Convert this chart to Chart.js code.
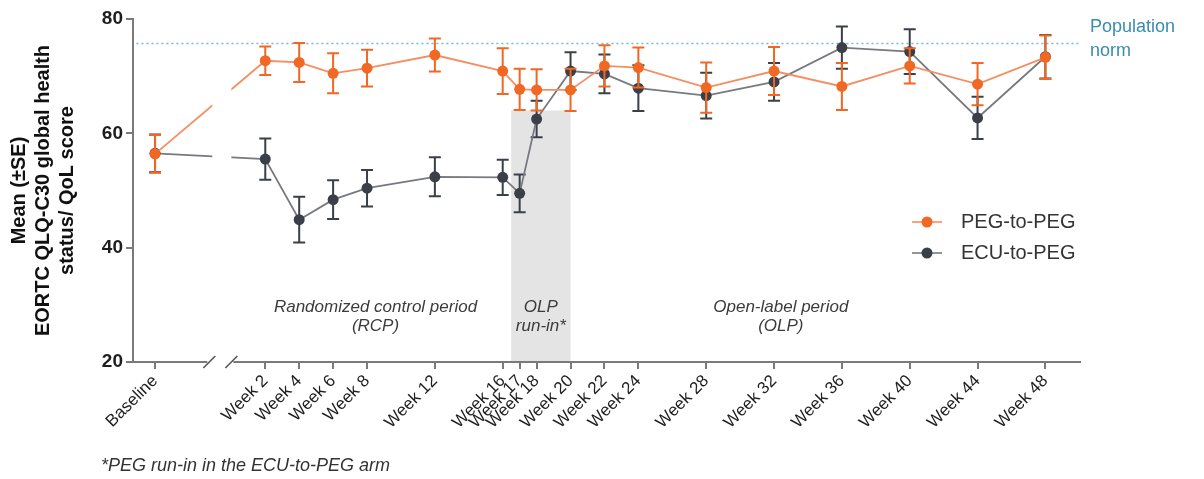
<!DOCTYPE html>
<html>
<head>
<meta charset="utf-8">
<script src="https://cdn.jsdelivr.net/npm/chart.js@4.4.1/dist/chart.umd.min.js"></script>
<style>
  html, body { margin: 0; padding: 0; background: #fff; }
  #wrap { position: relative; width: 1204px; height: 479px; }
</style>
</head>
<body>
<div id="wrap"><canvas id="qolChart" width="1204" height="479"></canvas></div>
<script>
// x positions: baseline sits left of the axis break, the rest are study weeks
const BASELINE_POS = -4.5;
const categories = ['Baseline', 'Week 2', 'Week 4', 'Week 6', 'Week 8', 'Week 12', 'Week 16', 'Week 17', 'Week 18',
  'Week 20', 'Week 22', 'Week 24', 'Week 28', 'Week 32', 'Week 36', 'Week 40', 'Week 44', 'Week 48'];
const weekValues = [BASELINE_POS, 2, 4, 6, 8, 12, 16, 17, 18, 20, 22, 24, 28, 32, 36, 40, 44, 48];

// mean and SE per visit
const pegMean = [56.4, 72.7, 72.4, 70.5, 71.4, 73.7, 70.9, 67.7, 67.6, 67.6, 71.8, 71.5, 68.0, 70.9, 68.2, 71.8, 68.6, 73.3];
const pegSE   = [3.3, 2.5, 3.4, 3.5, 3.2, 2.9, 4.0, 3.6, 3.6, 3.7, 3.6, 3.5, 4.4, 4.2, 4.1, 3.1, 3.7, 3.8];
const ecuMean = [56.5, 55.5, 44.9, 48.4, 50.4, 52.4, 52.3, 49.5, 62.5, 70.9, 70.4, 67.9, 66.6, 69.0, 75.0, 74.3, 62.7, 73.4];
const ecuSE   = [3.3, 3.6, 4.0, 3.4, 3.2, 3.4, 3.1, 3.3, 3.2, 3.3, 3.4, 4.0, 4.0, 3.3, 3.7, 3.9, 3.7, 3.8];

const populationNorm = 75.7;
const yTicks = [20, 40, 60, 80];
const runInWeeks = [16.5, 20];   // shaded OLP run-in window
const runInTop = 64;
const axisBreak = [-1.3, 0];     // the // on the x axis

const X_MIN = -5.8;
const X_MAX = 50.1;

const ORANGE = 'rgb(241,103,36)';
const ORANGE_LINE = 'rgb(245,142,98)';
const DARK = 'rgb(58,63,72)';
const GRAY_LINE = 'rgb(118,122,128)';
const AXIS = '#7a7a7a';
const FONT = "'Liberation Sans', Arial, sans-serif";

const errorBars = { 0: [pegMean, pegSE, ORANGE], 1: [ecuMean, ecuSE, DARK] };

const qolPlugin = {
  id: 'qolDecor',
  beforeDatasetsDraw(chart) {
    const { ctx, chartArea, scales: { x, y } } = chart;
    ctx.save();
    ctx.fillStyle = '#e4e4e4';
    const x0 = x.getPixelForValue(runInWeeks[0]);
    const x1 = x.getPixelForValue(runInWeeks[1]);
    const top = y.getPixelForValue(runInTop);
    ctx.fillRect(x0, top, x1 - x0, chartArea.bottom - top - 1);
    ctx.restore();
  },
  beforeDatasetDraw(chart, args) {
    const eb = errorBars[args.index];
    if (!eb) return;
    const { ctx, chartArea, scales: { x, y } } = chart;
    const [means, ses, color] = eb;
    ctx.save();
    ctx.strokeStyle = color;
    ctx.lineWidth = 2;
    means.forEach((m, i) => {
      const px = x.getPixelForValue(weekValues[i]);
      const yt = y.getPixelForValue(m + ses[i]);
      const yb = y.getPixelForValue(m - ses[i]);
      ctx.beginPath();
      ctx.moveTo(px, yt); ctx.lineTo(px, yb);
      ctx.moveTo(px - 6, yt); ctx.lineTo(px + 6, yt);
      ctx.moveTo(px - 6, yb); ctx.lineTo(px + 6, yb);
      ctx.stroke();
    });
    ctx.restore();
    // cut the connecting line where the axis is broken
    const g0 = x.getPixelForValue(axisBreak[0]) + 3;
    const g1 = x.getPixelForValue(axisBreak[1]);
    ctx.save();
    ctx.beginPath();
    ctx.rect(0, 0, chart.width, chart.height);
    ctx.rect(g0, chartArea.top, g1 - g0, chartArea.bottom - chartArea.top);
    ctx.clip('evenodd');
  },
  afterDatasetDraw(chart, args) {
    if (errorBars[args.index]) chart.ctx.restore();
  },
  afterDraw(chart) {
    const { ctx, chartArea, scales: { x, y } } = chart;
    const base = chartArea.bottom;
    const b0 = x.getPixelForValue(axisBreak[0]);
    const b1 = x.getPixelForValue(axisBreak[1]);
    ctx.save();

    // x axis with break
    ctx.strokeStyle = AXIS;
    ctx.lineWidth = 2;
    ctx.beginPath();
    ctx.moveTo(chartArea.left, base); ctx.lineTo(b0 - 2, base);
    ctx.moveTo(b1 + 2, base); ctx.lineTo(chartArea.right, base);
    ctx.stroke();
    ctx.lineWidth = 1.6;
    ctx.strokeStyle = '#555';
    [b0, b1].forEach(bx => {
      ctx.beginPath();
      ctx.moveTo(bx - 6, base + 6); ctx.lineTo(bx + 6, base - 6);
      ctx.stroke();
    });

    // y axis title
    ctx.fillStyle = '#111';
    ctx.font = 'bold 20px ' + FONT;
    ctx.textAlign = 'center';
    ctx.textBaseline = 'middle';
    const midY = (chartArea.top + chartArea.bottom) / 2;
    [['Mean (\u00b1SE)', 19], ['EORTC QLQ-C30 global health', 43], ['status/ QoL score', 67]].forEach(([t, cx]) => {
      ctx.save();
      ctx.translate(cx, midY);
      ctx.rotate(-Math.PI / 2);
      ctx.fillText(t, 0, 0);
      ctx.restore();
    });

    // period annotations
    ctx.fillStyle = '#3c3c3c';
    ctx.font = 'italic 17px ' + FONT;
    const l1 = y.getPixelForValue(29.6);
    const l2 = y.getPixelForValue(26.3);
    [['Randomized control period', '(RCP)', 8.5], ['OLP', 'run-in*', 18.25], ['Open-label period', '(OLP)', 32.4]]
      .forEach(([a, b, wx]) => {
        const px = x.getPixelForValue(wx);
        ctx.fillText(a, px, l1);
        ctx.fillText(b, px, l2);
      });

    // population norm label
    ctx.fillStyle = 'rgb(58,140,175)';
    ctx.font = '18px ' + FONT;
    ctx.textAlign = 'left';
    ctx.textBaseline = 'alphabetic';
    ctx.fillText('Population', 1090, 32);
    ctx.fillText('norm', 1090, 56);

    // legend
    ctx.textBaseline = 'middle';
    ctx.font = '20px ' + FONT;
    [['PEG-to-PEG', ORANGE_LINE, ORANGE, 222], ['ECU-to-PEG', GRAY_LINE, DARK, 253]].forEach(([t, lc, pc, ly]) => {
      ctx.strokeStyle = lc;
      ctx.lineWidth = 1.6;
      ctx.beginPath(); ctx.moveTo(912, ly); ctx.lineTo(942, ly); ctx.stroke();
      ctx.fillStyle = pc;
      ctx.beginPath(); ctx.arc(927, ly, 5.5, 0, Math.PI * 2); ctx.fill();
      ctx.fillStyle = '#333';
      ctx.fillText(t, 961, ly);
    });

    // footnote
    ctx.fillStyle = '#333';
    ctx.font = 'italic 18px ' + FONT;
    ctx.fillText('*PEG run-in in the ECU-to-PEG arm', 101, 466);
    ctx.restore();
  }
};

const series = (means) => weekValues.map((w, i) => ({ x: w, y: means[i] }));

new Chart(document.getElementById('qolChart'), {
  type: 'line',
  data: {
    datasets: [
      {
        label: 'PEG-to-PEG', data: series(pegMean),
        borderColor: ORANGE_LINE, borderWidth: 1.8,
        pointRadius: 5.5, pointBackgroundColor: ORANGE, pointBorderWidth: 0, tension: 0
      },
      {
        label: 'ECU-to-PEG', data: series(ecuMean),
        borderColor: GRAY_LINE, borderWidth: 1.8,
        pointRadius: 5.5, pointBackgroundColor: DARK, pointBorderWidth: 0, tension: 0
      },
      {
        label: 'Population norm',
        data: [{ x: X_MIN + 0.2, y: populationNorm }, { x: X_MAX, y: populationNorm }],
        borderColor: 'rgb(118,184,212)', borderWidth: 1.5, borderDash: [2, 3], pointRadius: 0
      }
    ]
  },
  options: {
    responsive: false,
    animation: false,
    devicePixelRatio: 1,
    layout: { padding: { top: 19, right: 123, left: 0, bottom: 0 } },
    plugins: { legend: { display: false }, tooltip: { enabled: false } },
    scales: {
      x: {
        type: 'linear', min: X_MIN, max: X_MAX,
        afterBuildTicks: (scale) => { scale.ticks = weekValues.map(v => ({ value: v })); },
        afterFit: (scale) => { scale.height = 117; },
        border: { display: false },
        grid: { drawOnChartArea: false, drawTicks: true, tickLength: 7, color: AXIS, lineWidth: 2 },
        ticks: {
          autoSkip: false, minRotation: 45, maxRotation: 45, padding: 2,
          color: '#1e1e1e', font: { family: FONT, size: 17 },
          callback: (v, i) => categories[i]
        }
      },
      y: {
        min: 20, max: 80,
        afterBuildTicks: (scale) => { scale.ticks = yTicks.map(v => ({ value: v })); },
        afterFit: (scale) => { scale.width = 133; },
        border: { display: true, color: AXIS, width: 2 },
        grid: { drawOnChartArea: false, drawTicks: true, tickLength: 7, color: AXIS, lineWidth: 2 },
        ticks: { padding: 3, color: '#1e1e1e', font: { family: FONT, size: 19, weight: 'bold' } }
      }
    }
  },
  plugins: [qolPlugin]
});
</script>
</body>
</html>
